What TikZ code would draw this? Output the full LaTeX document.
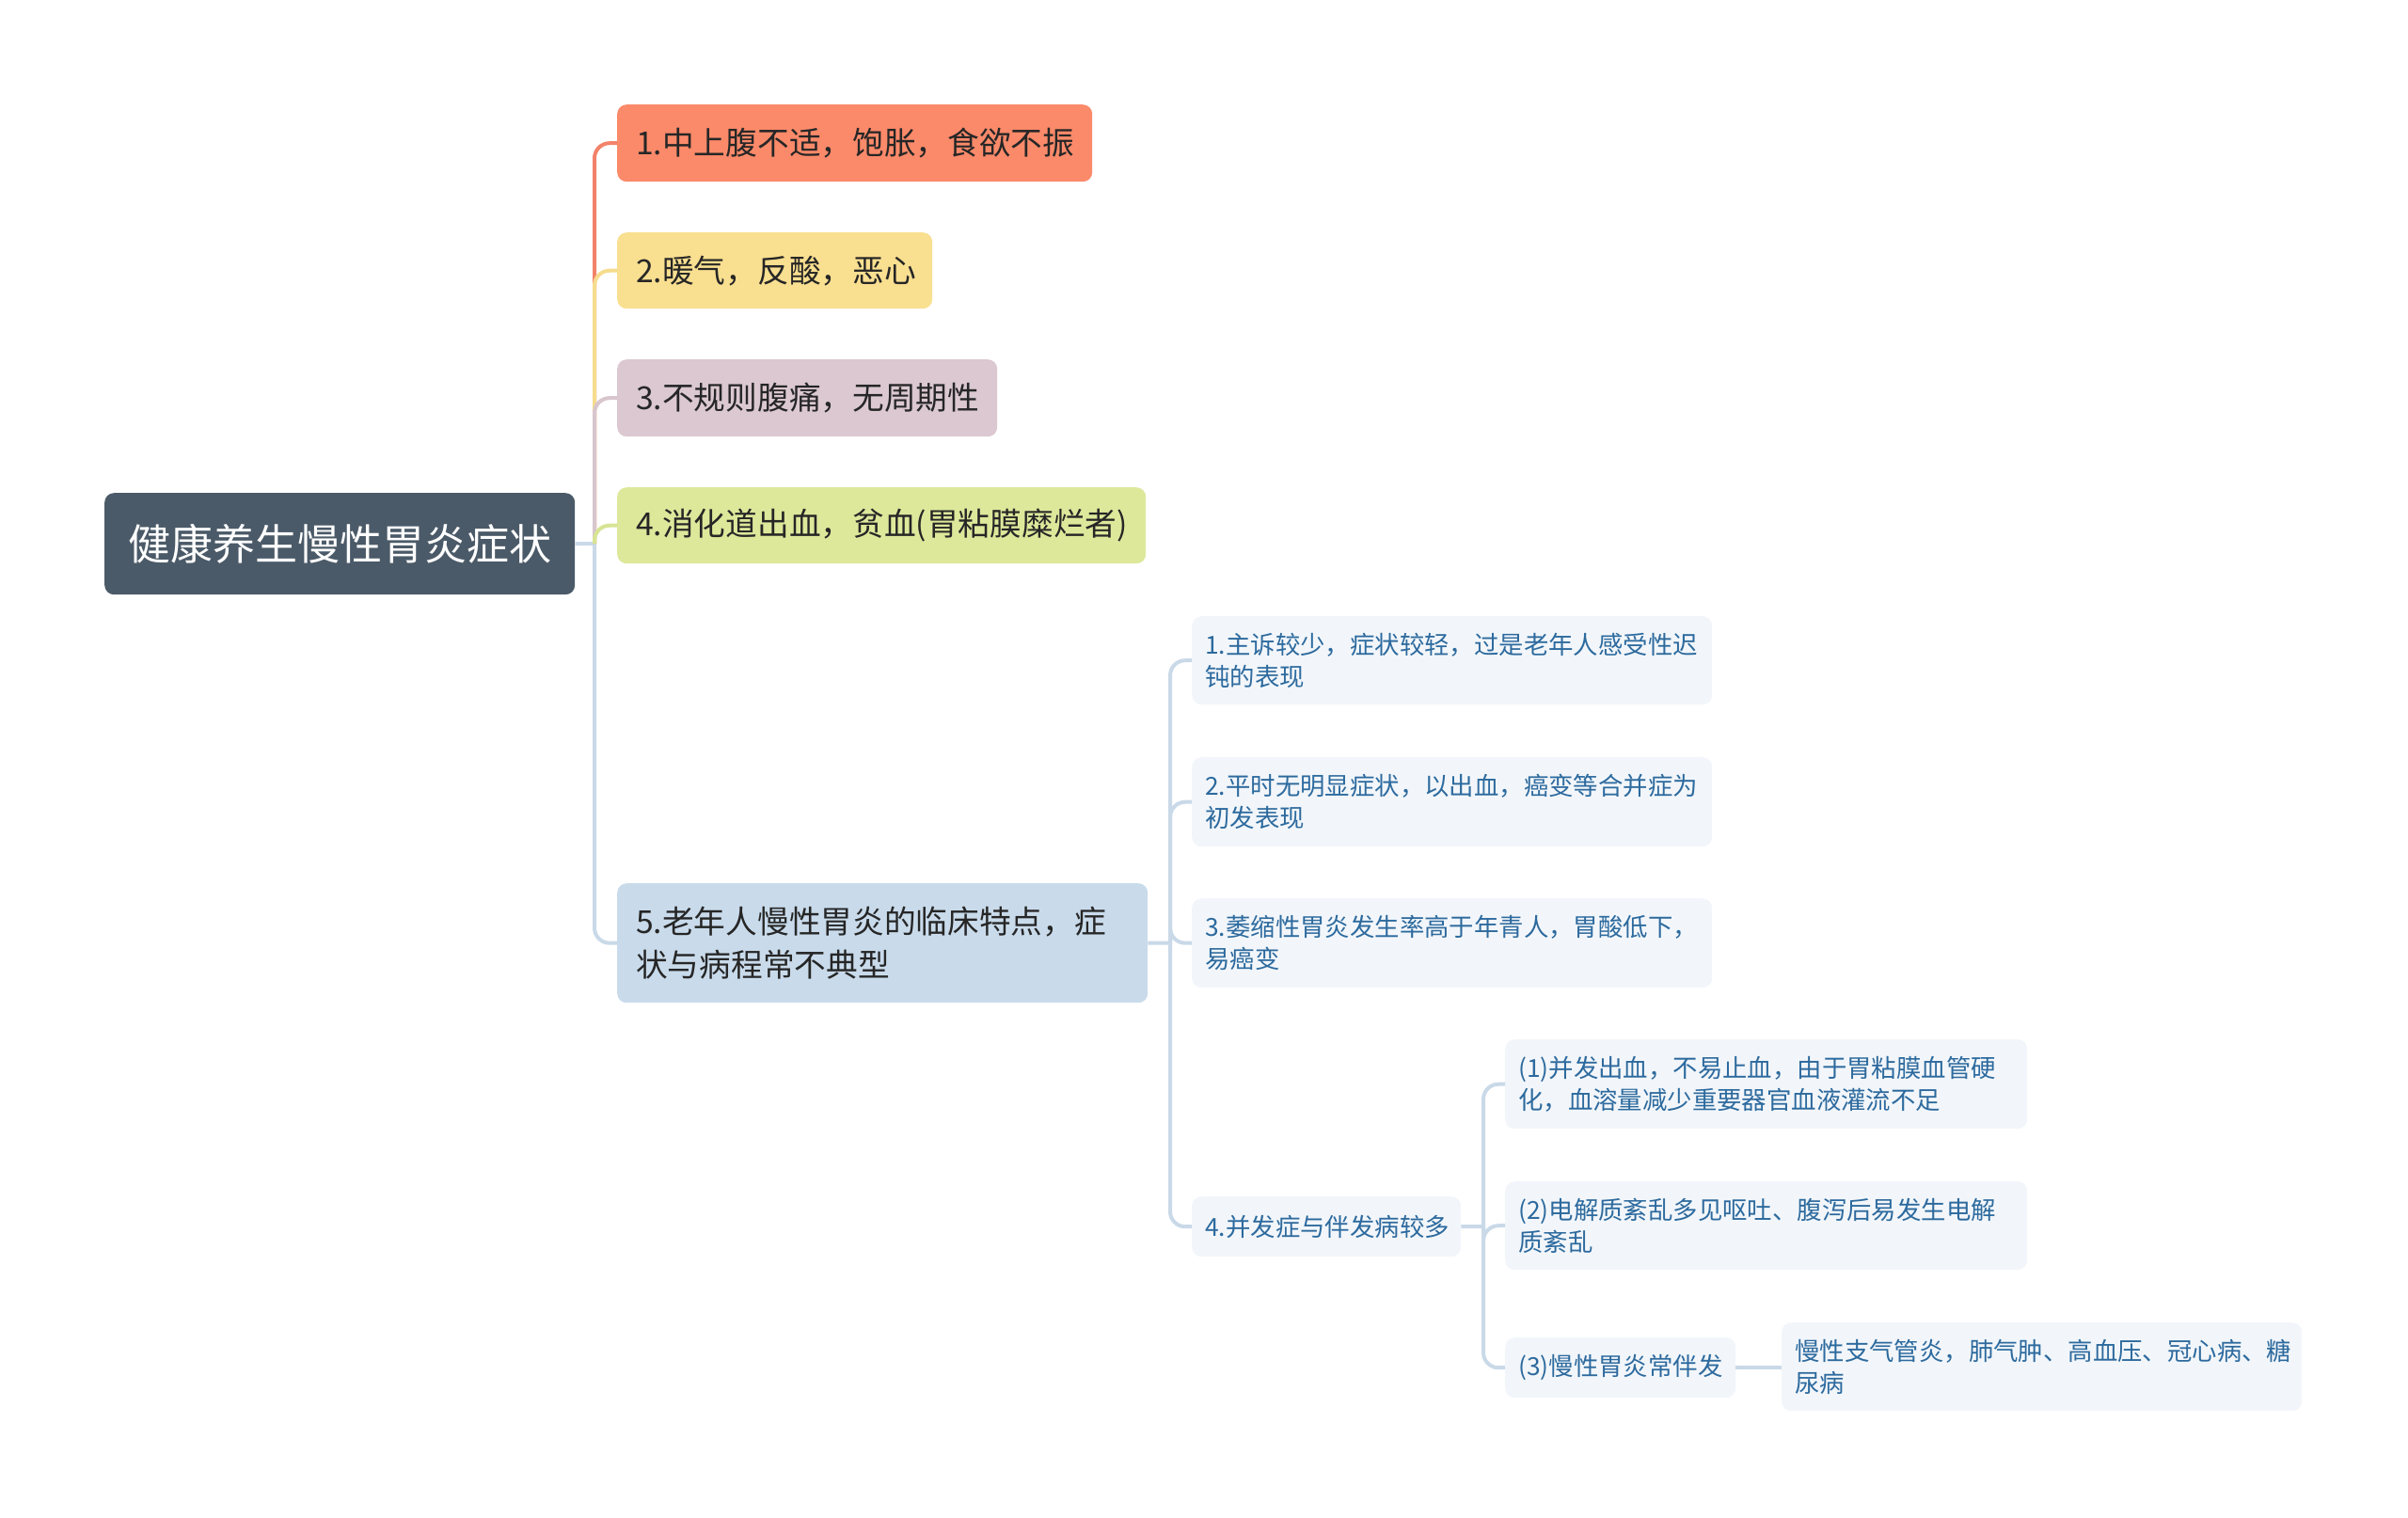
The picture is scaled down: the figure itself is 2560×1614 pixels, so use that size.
\documentclass[tikz,border=0pt]{standalone}
\usepackage{fontspec}
\newfontfamily\cjk{Noto Sans CJK SC}
\definecolor{rootfill}{HTML}{4B5A68}
\definecolor{fa}{HTML}{FA8A6A}
\definecolor{fb}{HTML}{F9DF90}
\definecolor{fc}{HTML}{DBC8D0}
\definecolor{fd}{HTML}{DDE89B}
\definecolor{fe}{HTML}{C9DBEB}
\definecolor{ca}{HTML}{F2836A}
\definecolor{cb}{HTML}{F6DC8E}
\definecolor{cc}{HTML}{D8C5CD}
\definecolor{cd}{HTML}{D7E494}
\definecolor{ce}{HTML}{C9D9E8}
\definecolor{subfill}{HTML}{F2F6FA}
\definecolor{subtext}{HTML}{2D6A9E}
\definecolor{maintext}{HTML}{262626}
\tikzset{
  box/.style={anchor=north west, rounded corners=10pt, inner ysep=0pt, align=left},
  rootbox/.style={anchor=north west, rounded corners=10pt, fill=rootfill, text=white, align=center,
    font=\cjk\fontsize{45pt}{54pt}\selectfont, inner sep=0pt},
  lvone/.style={box, text=maintext, inner xsep=20pt, font=\cjk\fontsize{33.7pt}{46pt}\selectfont},
  lvsub/.style={box, fill=subfill, text=subtext, inner xsep=14pt, font=\cjk\fontsize{26.4pt}{34pt}\selectfont},
  conn/.style={line width=4pt, rounded corners=16pt},
}
\begin{document}
\begin{tikzpicture}[x=1pt,y=-1pt]
\useasboundingbox (0,0) rectangle (2560,1614);
% root
\node[rootbox, minimum width=500pt, minimum height=108pt] (root) at (111,524) {健康养生慢性胃炎症状};
% level 1
\node[lvone, fill=fa, text width=465pt, minimum height=82pt] (n1) at (656,111) {1.中上腹不适，饱胀，食欲不振};
\node[lvone, fill=fb, text width=295pt, minimum height=81pt] (n2) at (656,247) {2.暖气，反酸，恶心};
\node[lvone, fill=fc, text width=364pt, minimum height=82pt] (n3) at (656,382) {3.不规则腹痛，无周期性};
\node[lvone, fill=fd, text width=522pt, minimum height=81pt] (n4) at (656,518) {4.消化道出血，贫血(胃粘膜糜烂者)};
\node[lvone, fill=fe, text width=524pt, minimum height=127pt] (n5) at (656,939) {5.老年人慢性胃炎的临床特点，症\\状与病程常不典型};
% level 2
\node[lvsub, text width=525pt, minimum height=94pt] (a) at (1267,655) {1.主诉较少，症状较轻，过是老年人感受性迟\\钝的表现};
\node[lvsub, text width=525pt, minimum height=95pt] (b) at (1267,805) {2.平时无明显症状，以出血，癌变等合并症为\\初发表现};
\node[lvsub, text width=525pt, minimum height=95pt] (c) at (1267,955) {3.萎缩性胃炎发生率高于年青人，胃酸低下，\\易癌变};
\node[lvsub, text width=258pt, minimum height=64pt] (d) at (1267,1272) {4.并发症与伴发病较多};
% level 3
\node[lvsub, text width=527pt, minimum height=95pt] (d1) at (1600,1105) {(1)并发出血，不易止血，由于胃粘膜血管硬\\化，血溶量减少重要器官血液灌流不足};
\node[lvsub, text width=527pt, minimum height=94pt] (d2) at (1600,1256) {(2)电解质紊乱多见呕吐、腹泻后易发生电解\\质紊乱};
\node[lvsub, text width=217pt, minimum height=64pt] (d3) at (1600,1422) {(3)慢性胃炎常伴发};
% level 4
\node[lvsub, text width=525pt, minimum height=94pt] (d3a) at (1894,1406) {慢性支气管炎，肺气肿、高血压、冠心病、糖\\尿病};
% connectors level 1
\coordinate (j0) at (632,578);
\draw[conn, ce] (root.east) -- (j0);
\draw[conn, ce] (j0) |- (n5.west);
\draw[conn, ca] (j0) |- (n1.west);
\draw[conn, cb] (j0) |- (n2.west);
\draw[conn, cc] (j0) |- (n3.west);
\draw[conn, cd] (j0) |- (n4.west);
% connectors level 2
\coordinate (j1) at (1244,1002.5);
\draw[conn, ce] (n5.east) -- (j1);
\draw[conn, ce] (j1) |- (a.west);
\draw[conn, ce] (j1) |- (b.west);
\draw[conn, ce] (j1) |- (c.west);
\draw[conn, ce] (j1) |- (d.west);
% connectors level 3
\coordinate (j2) at (1577,1304);
\draw[conn, ce] (d.east) -- (j2);
\draw[conn, ce] (j2) |- (d1.west);
\draw[conn, ce] (j2) |- (d2.west);
\draw[conn, ce] (j2) |- (d3.west);
% level 4
\draw[conn, ce] (d3.east) -- (d3.east -| d3a.west);
\end{tikzpicture}
\end{document}
